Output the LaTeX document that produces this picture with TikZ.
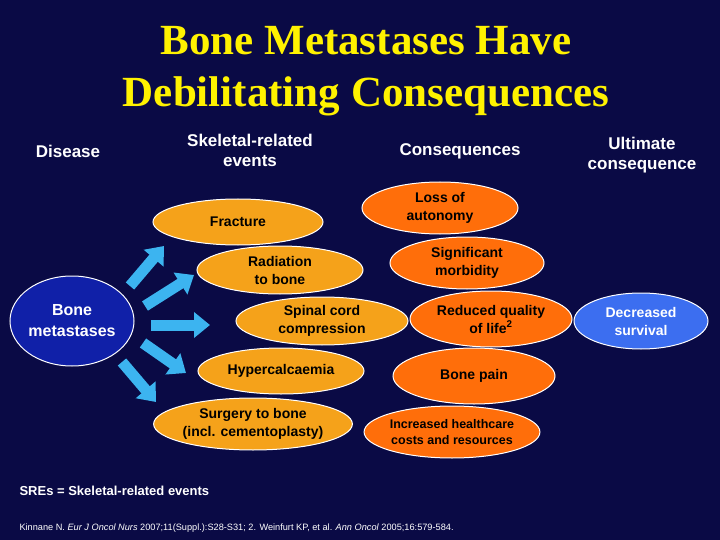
\documentclass[tikz,border=0pt]{standalone}
\usepackage{fontspec}
\setmainfont{Liberation Sans}
\newfontfamily\titlefont{Liberation Serif}
\usetikzlibrary{shapes.geometric,arrows.meta}
\definecolor{bg}{HTML}{0A0A45}
\definecolor{midor}{HTML}{F5A21A}
\definecolor{rightor}{HTML}{FF6E0A}
\definecolor{bonebl}{HTML}{1020A8}
\definecolor{survbl}{HTML}{3C6EF0}
\definecolor{arrbl}{HTML}{3CB4F0}
\tikzset{
  ell/.style={ellipse,draw=white,line width=1pt,inner sep=0pt,align=center,font=\bfseries\fontsize{14}{18}\selectfont},
  midell/.style={ell,fill=midor,text=black},
  rightell/.style={ell,fill=rightor,text=black},
  hdr/.style={text=white,align=center,font=\bfseries\fontsize{17}{20}\selectfont},
  bigarrow/.style={arrbl,line width=11pt,-{Triangle[width=25pt,length=16pt]}}
}
\begin{document}
\begin{tikzpicture}[x=1pt,y=-1pt]
\fill[bg] (0,0) rectangle (720,540);
\useasboundingbox (0,0) rectangle (720,540);
\node[text=yellow,font=\titlefont\bfseries\fontsize{43}{52}\selectfont,align=center] (title) at (366,71) {Bone Metastases Have\\Debilitating Consequences};
\node[hdr] (h1) at (68,151) {Disease};
\node[hdr] (h2) at (250,150) {Skeletal-related\\events};
\node[hdr] (h3) at (460,151) {Consequences};
\node[hdr] (h4) at (642,155) {Ultimate\\consequence};
\node[ell,fill=bonebl,text=white,minimum width=124pt,minimum height=90pt,font=\bfseries\fontsize{16}{21}\selectfont] (bone) at (72,321) {Bone\\metastases};
\node[midell,minimum width=170pt,minimum height=46pt] (frac) at (238,222) {Fracture};
\node[midell,minimum width=166pt,minimum height=48pt] (rad) at (280,270) {Radiation\\to bone};
\node[midell,minimum width=172pt,minimum height=48pt] (spin) at (322,321) {Spinal cord\\compression};
\node[midell,minimum width=166pt,minimum height=46pt] (hyp) at (281,371) {Hypercalcaemia};
\node[midell,minimum width=180pt,minimum height=52pt] (surg) at (253,424) {Surgery to bone\\(incl. cementoplasty)};
\node[rightell,minimum width=156pt,minimum height=52pt] (loss) at (440,208) {Loss of\\autonomy};
\node[rightell,minimum width=154pt,minimum height=52pt] (morb) at (467,263) {Significant\\morbidity};
\node[rightell,minimum width=162pt,minimum height=56pt] (qol) at (491,319) {Reduced quality\\of life$^{\mathbf 2}$};
\node[rightell,minimum width=162pt,minimum height=56pt] (pain) at (474,376) {Bone pain};
\node[rightell,minimum width=168pt,minimum height=52pt,font=\bfseries\fontsize{12.5}{16}\selectfont] (cost) at (452,432) {Increased healthcare\\costs and resources};
\node[ell,fill=survbl,text=white,minimum width=134pt,minimum height=56pt] (surv) at (641,321) {Decreased\\survival};
\coordinate (a1s) at (130,286); \coordinate (a1e) at (164,246);
\coordinate (a2s) at (145,306); \coordinate (a2e) at (194,275);
\coordinate (a3s) at (151,325); \coordinate (a3e) at (210,325);
\coordinate (a4s) at (143,343); \coordinate (a4e) at (186,373);
\coordinate (a5s) at (122,362); \coordinate (a5e) at (156,402);
\foreach \i in {1,...,5} \draw[bigarrow] (a\i s) -- (a\i e);
\node[anchor=west,text=white,font=\bfseries\fontsize{13}{15}\selectfont] (sre) at (16,491) {SREs = Skeletal-related events};
\node[anchor=west,text=white,font=\fontsize{9.2}{11}\selectfont] (ref) at (16,528) {Kinnane N. \textit{Eur J Oncol Nurs} 2007;11(Suppl.):S28-S31; 2. Weinfurt KP, et al. \textit{Ann Oncol} 2005;16:579-584.};
\end{tikzpicture}
\end{document}
